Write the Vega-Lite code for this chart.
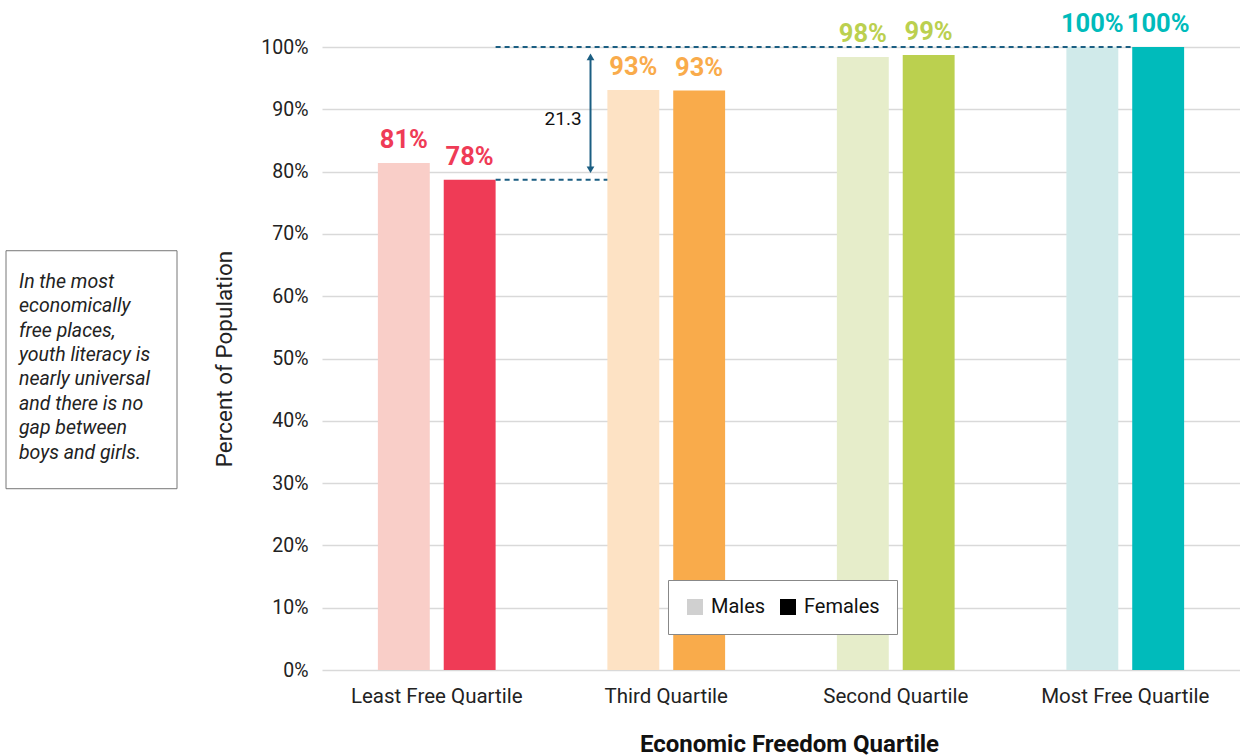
{
  "$schema": "https://vega.github.io/schema/vega-lite/v6.json",
  "background": "white",
  "padding": {"left": 5, "top": 12, "right": 0, "bottom": 0},
  "config": {"font": "Roboto", "view": {"stroke": null}},
  "spacing": 35,
  "hconcat": [
    {
      "width": 171,
      "height": 623,
      "data": {"values": [{}]},
      "layer": [
        {
          "mark": {"type": "rect", "fill": "white", "stroke": "#777777", "strokeWidth": 1},
          "encoding": {
            "x": {"datum": 0, "type": "quantitative", "scale": {"domain": [0, 1]}, "axis": null},
            "x2": {"datum": 1},
            "y": {"datum": 29.1, "type": "quantitative", "scale": {"domain": [0, 100]}, "axis": null},
            "y2": {"datum": 67.3}
          }
        },
        {
          "mark": {"type": "text", "align": "left", "baseline": "middle", "fontStyle": "italic", "fontSize": 19.5, "lineHeight": 24.4, "color": "#222222"},
          "encoding": {
            "x": {"datum": 0.076, "type": "quantitative"},
            "y": {"datum": 62.3, "type": "quantitative"},
            "text": {"value": ["In the most", "economically", "free places,", "youth literacy is", "nearly universal", "and there is no", "gap between", "boys and girls."]}
          }
        }
      ]
    },
    {
      "width": 918,
      "height": 623,
      "data": {"values": [
        {"q": "Least Free Quartile", "sex": "Males", "key": "Least Free Quartile Males", "v": 81.4, "label": "81%"},
        {"q": "Least Free Quartile", "sex": "Females", "key": "Least Free Quartile Females", "v": 78.7, "label": "78%"},
        {"q": "Third Quartile", "sex": "Males", "key": "Third Quartile Males", "v": 93.1, "label": "93%"},
        {"q": "Third Quartile", "sex": "Females", "key": "Third Quartile Females", "v": 93.0, "label": "93%"},
        {"q": "Second Quartile", "sex": "Males", "key": "Second Quartile Males", "v": 98.4, "label": "98%"},
        {"q": "Second Quartile", "sex": "Females", "key": "Second Quartile Females", "v": 98.7, "label": "99%"},
        {"q": "Most Free Quartile", "sex": "Males", "key": "Most Free Quartile Males", "v": 100, "label": "100%"},
        {"q": "Most Free Quartile", "sex": "Females", "key": "Most Free Quartile Females", "v": 100, "label": "100%"}
      ]},
      "resolve": {"scale": {"color": "independent"}},
      "layer": [
        {
          "mark": {"type": "bar"},
          "encoding": {
            "x": {
              "field": "q", "type": "nominal",
              "scale": {"domain": ["Least Free Quartile", "Third Quartile", "Second Quartile", "Most Free Quartile"], "paddingInner": 0.487, "paddingOuter": 0.2435},
              "title": "Economic Freedom Quartile",
              "axis": {"labelAngle": 0, "labelFontSize": 20.5, "labelColor": "#222222", "labelPadding": 16, "ticks": false, "domain": false, "titleFontSize": 24, "titleFontWeight": "bold", "titleColor": "#111111", "titlePadding": 26, "titleX": 467}
            },
            "xOffset": {"field": "sex", "type": "nominal", "scale": {"domain": ["Males", "Females"], "paddingInner": 0.212, "paddingOuter": 0}},
            "y": {
              "field": "v", "type": "quantitative",
              "scale": {"domain": [0, 100], "nice": false},
              "title": "Percent of Population",
              "axis": {"values": [0, 10, 20, 30, 40, 50, 60, 70, 80, 90, 100], "labelExpr": "datum.value + '%'", "grid": true, "gridColor": "#d9d9d9", "gridWidth": 1.6, "domain": false, "ticks": false, "labelFontSize": 19.5, "labelColor": "#222222", "labelPadding": 14, "titleFontSize": 22.5, "titleFontWeight": "normal", "titleColor": "#222222", "titlePadding": 24}
            },
            "color": {
              "field": "key", "type": "nominal", "legend": null,
              "scale": {
                "domain": ["Least Free Quartile Males", "Least Free Quartile Females", "Third Quartile Males", "Third Quartile Females", "Second Quartile Males", "Second Quartile Females", "Most Free Quartile Males", "Most Free Quartile Females"],
                "range": ["#f9cec8", "#ef3b56", "#fde2c4", "#f9ab4b", "#e6edca", "#bbd04f", "#d0eaea", "#00bbbb"]
              }
            }
          }
        },
        {
          "mark": {"type": "text", "fontWeight": "bold", "fontSize": 25.5, "baseline": "alphabetic", "align": "center", "dy": -15},
          "encoding": {
            "x": {"field": "q", "type": "nominal"},
            "xOffset": {"field": "sex", "type": "nominal"},
            "y": {"field": "v", "type": "quantitative"},
            "text": {"field": "label"},
            "color": {
              "field": "q", "type": "nominal", "legend": null,
              "scale": {"domain": ["Least Free Quartile", "Third Quartile", "Second Quartile", "Most Free Quartile"], "range": ["#ef3b56", "#f9ab4b", "#bbd04f", "#00bbbb"]}
            }
          }
        },
        {
          "mark": {"type": "point", "shape": "square", "filled": true, "opacity": 0},
          "encoding": {
            "x": {"field": "q", "type": "nominal"},
            "y": {"field": "v", "type": "quantitative"},
            "color": {
              "field": "sex", "type": "nominal",
              "scale": {"domain": ["Males", "Females"], "range": ["#d0d0d0", "#000000"]},
              "legend": {
                "title": null, "orient": "none", "legendX": 346, "legendY": 533, "direction": "horizontal",
                "symbolType": "square", "symbolSize": 256, "symbolOpacity": 1, "symbolStrokeWidth": 0,
                "labelFontSize": 20, "labelColor": "#111111", "labelOffset": 6, "columnPadding": 12,
                "padding": 17, "strokeColor": "#888888", "fillColor": "white",
                "encode": {"symbols": {"update": {"opacity": {"value": 1}}}}
              }
            }
          }
        },
        {
          "data": {"values": [{}]},
          "mark": {"type": "rule", "color": "#1b5e82", "strokeWidth": 2, "strokeDash": [5, 4]},
          "encoding": {
            "x": {"datum": "Least Free Quartile", "type": "nominal", "bandPosition": 1},
            "x2": {"datum": "Most Free Quartile", "bandPosition": 0.559},
            "y": {"datum": 100, "type": "quantitative"}
          }
        },
        {
          "data": {"values": [{}]},
          "mark": {"type": "rule", "color": "#1b5e82", "strokeWidth": 2, "strokeDash": [5, 4]},
          "encoding": {
            "x": {"datum": "Least Free Quartile", "type": "nominal", "bandPosition": 1},
            "x2": {"datum": "Third Quartile", "bandPosition": 0},
            "y": {"datum": 78.7, "type": "quantitative"}
          }
        },
        {
          "data": {"values": [{}]},
          "mark": {"type": "rule", "color": "#1b5e82", "strokeWidth": 2},
          "encoding": {
            "x": {"datum": "Least Free Quartile", "type": "nominal", "bandPosition": 1.806},
            "y": {"datum": 98.5, "type": "quantitative"},
            "y2": {"datum": 80.2}
          }
        },
        {
          "data": {"values": [{}]},
          "mark": {"type": "point", "shape": "triangle-up", "filled": true, "size": 60, "color": "#1b5e82", "opacity": 1},
          "encoding": {
            "x": {"datum": "Least Free Quartile", "type": "nominal", "bandPosition": 1.806},
            "y": {"datum": 98.4, "type": "quantitative"}
          }
        },
        {
          "data": {"values": [{}]},
          "mark": {"type": "point", "shape": "triangle-down", "filled": true, "size": 60, "color": "#1b5e82", "opacity": 1},
          "encoding": {
            "x": {"datum": "Least Free Quartile", "type": "nominal", "bandPosition": 1.806},
            "y": {"datum": 80.3, "type": "quantitative"}
          }
        },
        {
          "data": {"values": [{}]},
          "mark": {"type": "text", "fontSize": 19, "color": "#111111", "align": "center", "baseline": "middle"},
          "encoding": {
            "x": {"datum": "Least Free Quartile", "type": "nominal", "bandPosition": 1.573},
            "y": {"datum": 88.5, "type": "quantitative"},
            "text": {"value": "21.3"}
          }
        }
      ]
    }
  ]
}
